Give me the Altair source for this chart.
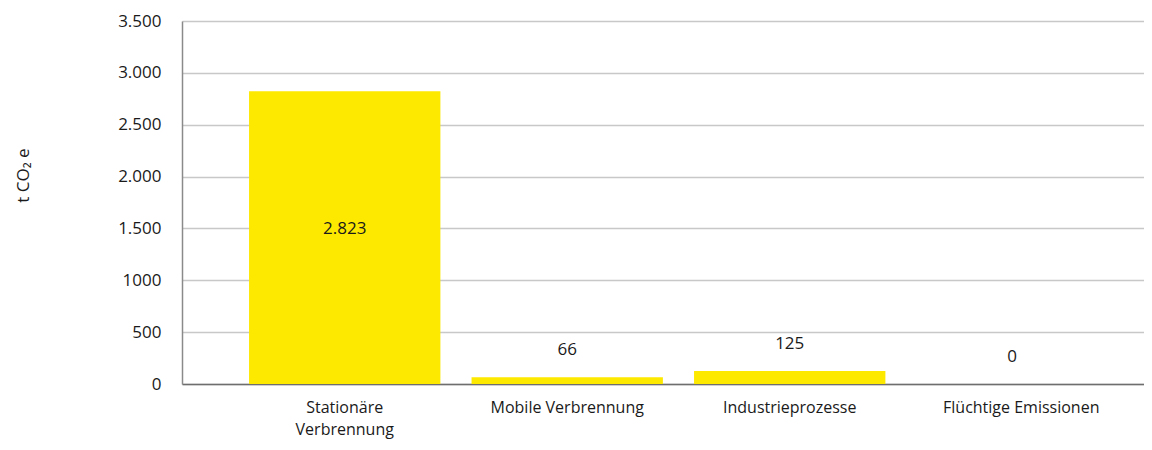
import altair as alt
import pandas as pd

categories = ["Stationäre Verbrennung", "Mobile Verbrennung", "Industrieprozesse", "Flüchtige Emissionen"]
values = [2823, 66, 125, 0]
value_labels = ["2.823", "66", "125", "0"]
y_ticks = [0, 500, 1000, 1500, 2000, 2500, 3000, 3500]
y_tick_labels = ["0", "500", "1000", "1.500", "2.000", "2.500", "3.000", "3.500"]

df = pd.DataFrame({"Kategorie": categories, "Wert": values, "Label": value_labels})

FONT = "Open Sans"
TXT = "#1a1a1a"
YELLOW = "#FDE900"

label_expr_y = (
    "[" + ",".join(f"'{t}'" for t in y_tick_labels) + "]"
    + "[indexof([" + ",".join(str(v) for v in y_ticks) + "], datum.value)]"
)
label_expr_x = "datum.label == 'Stationäre Verbrennung' ? ['Stationäre', 'Verbrennung'] : datum.label"

x_enc = alt.X(
    "Kategorie:N",
    sort=categories,
    scale=alt.Scale(paddingInner=0.14, paddingOuter=0.2318, align=0.65),
    axis=alt.Axis(
        title=None,
        labelAngle=0,
        labelExpr=label_expr_x,
        ticks=False,
        tickSize=0,
        domainColor="#6e6e6e",
        domainWidth=1.5,
        labelPadding=15,
        labelBaseline="top",
        labelLineHeight=22,
        labelFontSize=16,
        labelFont=FONT,
        labelColor=TXT,
        grid=False,
        labelOffset={"condition": {"test": "datum.value == 'Flüchtige Emissionen'", "value": 9}, "value": 0},
    ),
)

y_axis = alt.Axis(
    values=y_ticks,
    labelExpr=label_expr_y,
    ticks=False,
    tickSize=0,
    labelPadding=21,
    labelFontSize=17,
    labelFont=FONT,
    labelColor=TXT,
    domainColor="#8a8a8a",
    domainWidth=1.5,
    grid=True,
    gridColor="#c8c8c8",
    gridWidth=1.3,
    title="t CO₂ e",
    titleFont=FONT,
    titleFontSize=17,
    titleFontWeight="normal",
    titleColor=TXT,
    titleAngle=270,
    titleBaseline="middle",
    titleAlign="center",
    titleX=-159,
    titleY=154,
)
y_scale = alt.Scale(domain=[0, 3500], nice=False)

base = alt.Chart(df)

bars = base.mark_bar(color=YELLOW).encode(
    x=x_enc,
    y=alt.Y("Wert:Q", scale=y_scale, axis=y_axis, title="t CO₂ e"),
)

inside = base.transform_filter("datum.Wert > 1000").transform_calculate(
    mid="datum.Wert / 2"
).mark_text(font=FONT, fontSize=17, color=TXT, baseline="middle", dy=-9).encode(
    x=x_enc,
    y=alt.Y("mid:Q", scale=y_scale, axis=y_axis, title="t CO₂ e"),
    text="Label:N",
)

outside = base.transform_filter("datum.Wert <= 1000").mark_text(
    font=FONT, fontSize=17, color=TXT, baseline="middle", dy=-27
).encode(
    x=x_enc,
    y=alt.Y("Wert:Q", scale=y_scale, axis=y_axis, title="t CO₂ e"),
    text="Label:N",
)

chart = alt.layer(bars, inside, outside).properties(
    width=962,
    height=363,
    autosize=alt.AutoSizeParams(type="none"),
    padding={"left": 174, "top": 13, "right": 0, "bottom": 58},
).configure_view(stroke=None)

chart.save("out.html", embed_options={"renderer": "svg", "actions": False})
